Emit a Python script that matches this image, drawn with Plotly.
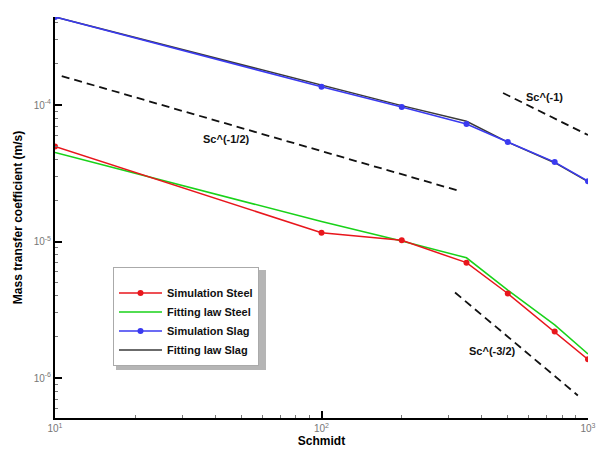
import math
import plotly.graph_objects as go

# Data
sc = [10, 100, 200, 350, 500, 750, 1000]
sim_steel = [4.97e-5, 1.16e-5, 1.02e-5, 7.0e-6, 4.16e-6, 2.19e-6, 1.37e-6]
fit_steel = [4.49e-5, 1.40e-5, 1.01e-5, 7.6e-6, 4.4e-6, 2.45e-6, 1.5e-6]
sim_slag = [4.42e-4, 1.36e-4, 9.67e-5, 7.26e-5, 5.36e-5, 3.82e-5, 2.77e-5]
fit_slag = [4.42e-4, 1.40e-4, 9.9e-5, 7.6e-5, 5.35e-5, 3.78e-5, 2.75e-5]

ref_half_x = [10.6, 331]
ref_half_y = [1.63e-4, 2.34e-5]
ref_one_x = [480, 1000]
ref_one_y = [1.225e-4, 6.03e-5]
ref_threehalf_x = [317, 916]
ref_threehalf_y = [4.23e-6, 7.45e-7]

ref_labels = ["Sc^(-1/2)", "Sc^(-1)", "Sc^(-3/2)"]
ref_label_x = [43.8, 684, 437]
ref_label_y = [5.63e-5, 1.145e-4, 1.59e-6]

x_tickvals = [10, 100, 1000]
x_ticktext = ["10<sup>1</sup>", "10<sup>2</sup>", "10<sup>3</sup>"]
y_tickvals = [1e-6, 1e-5, 1e-4]
y_ticktext = ["10<sup>-6</sup>", "10<sup>-5</sup>", "10<sup>-4</sup>"]

x_minor = [d * 10 ** k for k in (1, 2) for d in range(2, 10)]
y_minor = [d * 10.0 ** k for k in (-7, -6, -5, -4) for d in range(2, 10)]

RED = "#e8161c"
GREEN = "#19d219"
BLUE = "#3a3af0"
DARK = "#3a3a3a"

fig = go.Figure()

for rx, ry in [(ref_half_x, ref_half_y), (ref_one_x, ref_one_y), (ref_threehalf_x, ref_threehalf_y)]:
    fig.add_trace(go.Scatter(x=rx, y=ry, mode="lines", showlegend=False,
                             line=dict(color="#111111", width=1.8, dash="8px,5px"),
                             hoverinfo="skip"))

fig.add_trace(go.Scatter(x=sc, y=fit_slag, mode="lines", name="Fitting law Slag",
                         line=dict(color=DARK, width=1.5)))
fig.add_trace(go.Scatter(x=sc, y=sim_slag, mode="lines+markers", name="Simulation Slag",
                         line=dict(color=BLUE, width=1.5),
                         marker=dict(color=BLUE, size=6)))
fig.add_trace(go.Scatter(x=sc, y=fit_steel, mode="lines", name="Fitting law Steel",
                         line=dict(color=GREEN, width=1.5)))
fig.add_trace(go.Scatter(x=sc, y=sim_steel, mode="lines+markers", name="Simulation Steel",
                         line=dict(color=RED, width=1.5),
                         marker=dict(color=RED, size=6)))

for t, lx, ly in zip(ref_labels, ref_label_x, ref_label_y):
    fig.add_annotation(x=math.log10(lx), y=math.log10(ly), xref="x", yref="y",
                       text="<b>" + t + "</b>", showarrow=False,
                       font=dict(family="Liberation Sans Narrow, Arial Narrow, Liberation Sans",
                                 size=11, color="#111111"))

axis_common = dict(
    showline=True, linecolor="black", linewidth=2, mirror=False,
    ticks="inside", ticklen=7, tickwidth=1.5, tickcolor="black",
    showgrid=False, zeroline=False, automargin=False,
    tickfont=dict(family="Liberation Sans Narrow, Liberation Sans", size=10, color="#777777"),
)

fig.update_xaxes(type="log", range=[1, 3], tickvals=x_tickvals, ticktext=x_ticktext,
                 minor=dict(tickvals=x_minor, ticks="inside", ticklen=3, tickcolor="#777777",
                            tickwidth=1, showgrid=False),
                 title=dict(text="<b>Schmidt</b>", standoff=2,
                            font=dict(family="Liberation Sans, Arial", size=12, color="black")),
                 **axis_common)
fig.update_yaxes(type="log", range=[-6.293, -3.355], tickvals=y_tickvals, ticktext=y_ticktext,
                 minor=dict(tickvals=y_minor, ticks="inside", ticklen=3, tickcolor="#777777",
                            tickwidth=1, showgrid=False),
                 title=dict(text="<b>Mass transfer coefficient (m/s)</b>", standoff=8,
                            font=dict(family="Liberation Sans, Arial", size=12, color="black")),
                 **axis_common)

# legend drop shadow
fig.add_shape(type="rect", xref="paper", yref="paper",
              x0=(116 - 55) / 533, x1=(266 - 55) / 533,
              y0=(418 - 370) / 401, y1=(418 - 270) / 401,
              fillcolor="#b5b5b5", line=dict(width=0), layer="above")

fig.update_layout(
    width=599, height=452,
    margin=dict(l=55, r=11, t=17, b=34),
    paper_bgcolor="white", plot_bgcolor="white",
    legend=dict(x=(113 - 55) / 533, y=(418 - 267) / 401, xanchor="left", yanchor="top",
                bgcolor="white", bordercolor="#aaaaaa", borderwidth=1,
                traceorder="reversed", itemwidth=43,
                title=dict(text=" ", font=dict(size=8)),
                font=dict(family="Liberation Sans Narrow, Arial Narrow, Liberation Sans",
                          size=11, color="#111111", weight="bold")),
)

fig.write_html("out.html")
